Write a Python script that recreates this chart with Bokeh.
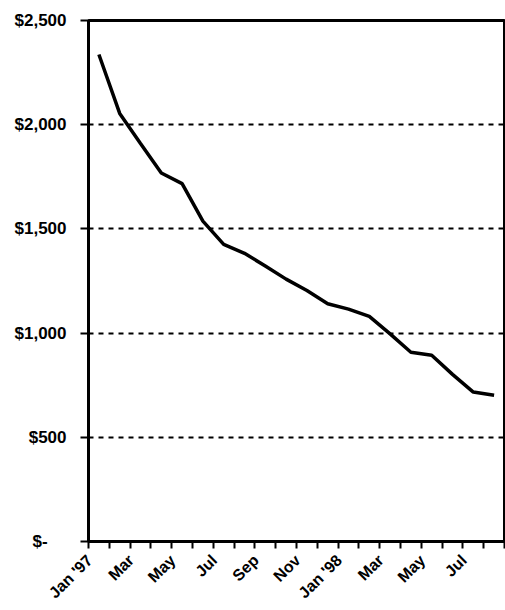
import math
from bokeh.plotting import figure
from bokeh.models import FixedTicker, Range1d
from bokeh.embed import file_html
from bokeh.resources import INLINE

months = ["Jan '97", "Feb", "Mar", "Apr", "May", "Jun", "Jul", "Aug", "Sep", "Oct",
          "Nov", "Dec", "Jan '98", "Feb", "Mar", "Apr", "May", "Jun", "Jul", "Aug"]
values = [2337, 2054, 1910, 1768, 1717, 1537, 1426, 1383, 1322, 1259,
          1204, 1141, 1115, 1080, 996, 908, 894, 802, 717, 702]
y_ticks = [0, 500, 1000, 1500, 2000, 2500]
y_tick_labels = ["$-\u00a0\u00a0\u00a0\u00a0", "$500", "$1,000", "$1,500", "$2,000", "$2,500"]
grid_levels = [500, 1000, 1500, 2000]

n = len(months)
xs = [i + 0.5 for i in range(n)]

p = figure(width=505, height=610, output_backend="svg", toolbar_location=None,
           x_range=Range1d(0, n), y_range=Range1d(0, 2500),
           min_border_left=88, min_border_right=1, min_border_top=20, min_border_bottom=67)
p.background_fill_color = "white"
p.border_fill_color = "white"
p.outline_line_color = "black"
p.outline_line_width = 3
p.outline_line_alpha = 1

p.line(xs, values, line_width=3.5, line_color="black")

# x axis: labels sit slightly left of the month centre, as in the original
label_shift = 0.45
label_pos = [xs[i] - label_shift for i in range(0, n, 2)]
p.xaxis.ticker = FixedTicker(ticks=label_pos, minor_ticks=list(range(n + 1)))
p.xaxis.major_label_overrides = {xs[i] - label_shift: months[i] for i in range(0, n, 2)}
p.xaxis.axis_line_width = 3
p.xaxis.axis_line_color = "black"
p.xaxis.major_tick_line_color = None
p.xaxis.major_tick_out = 6
p.xaxis.major_tick_in = 0
p.xaxis.minor_tick_line_color = "black"
p.xaxis.minor_tick_line_width = 2
p.xaxis.minor_tick_out = 7
p.xaxis.minor_tick_in = 0
p.xaxis.major_label_orientation = math.pi / 4
p.xaxis.major_label_text_font = "Liberation Sans"
p.xaxis.major_label_text_font_style = "bold"
p.xaxis.major_label_text_font_size = "16px"
p.xaxis.major_label_text_color = "black"
p.xaxis.major_label_standoff = 9

# y axis
p.yaxis.ticker = FixedTicker(ticks=y_ticks)
p.yaxis.major_label_overrides = {y_ticks[i]: y_tick_labels[i] for i in range(len(y_ticks))}
p.yaxis.axis_line_width = 3
p.yaxis.axis_line_color = "black"
p.yaxis.major_tick_line_color = "black"
p.yaxis.major_tick_line_width = 2
p.yaxis.major_tick_out = 8
p.yaxis.major_tick_in = 0
p.yaxis.minor_tick_line_color = None
p.yaxis.major_label_text_font = "Liberation Sans"
p.yaxis.major_label_text_font_style = "bold"
p.yaxis.major_label_text_font_size = "17px"
p.yaxis.major_label_text_color = "black"
p.yaxis.major_label_standoff = 14

# grid
p.xgrid.visible = False
p.ygrid.ticker = FixedTicker(ticks=grid_levels)
p.ygrid.grid_line_color = "black"
p.ygrid.grid_line_width = 2
p.ygrid.grid_line_dash = "5 5"

open("out.html", "w").write(file_html(p, INLINE))
